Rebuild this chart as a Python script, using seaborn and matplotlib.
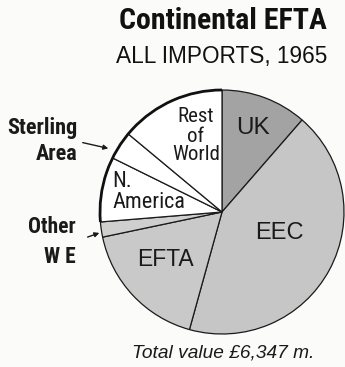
import matplotlib
matplotlib.use("Agg")
import matplotlib.pyplot as plt
from matplotlib.patches import Arc
import seaborn as sns

# Import shares by origin (percent of total), clockwise from 12 o'clock
regions = ["UK", "EEC", "EFTA", "Other WE", "N. America", "Sterling Area", "Rest of World"]
shares = [11.4, 42.9, 17.4, 2.0, 8.6, 3.75, 13.95]
shades = ["#a3a3a3", "#c6c6c6", "#c9c9c9", "#cfcfcf", "#ffffff", "#ffffff", "#ffffff"]

title = "Continental EFTA"
subtitle = "ALL IMPORTS, 1965"
note = "Total value £6,347 m."

sns.set_style("white")
plt.rcParams["font.family"] = ["Liberation Sans", "DejaVu Sans"]
NARROW = ["Roboto Condensed", "DejaVu Sans"]

W, H = 345, 367
fig = plt.figure(figsize=(W / 100, H / 100), dpi=100, facecolor="#fbfbfa")
ax = fig.add_axes([0, 0, 1, 1])
ax.set_facecolor("#fbfbfa")

cx, cy, r = 222, H - 212, 122
wedges, _ = ax.pie(
    shares, colors=shades, startangle=90, counterclock=False,
    center=(cx, cy), radius=r, frame=True,
    wedgeprops=dict(edgecolor="#1a1a1a", linewidth=0.9),
)
ax.set_xlim(0, W)
ax.set_ylim(0, H)
ax.set_aspect("equal")
ax.axis("off")

# heavier rim along the white (non-European) sectors
white_start = 90 + 360 * sum(shares[4:]) / 100
ax.add_patch(Arc((cx, cy), 2 * r, 2 * r, theta1=90, theta2=white_start,
                 lw=2.0, color="#111111", zorder=5))

def y(py):
    return H - py

ax.text(223, y(21), title, ha="center", va="center", fontsize=21.5,
        fontweight="bold", family=NARROW, color="#111111")
ax.text(222, y(57), subtitle, ha="center", va="center", fontsize=16.3,
        color="#111111")

ax.text(253, y(128), "UK", ha="center", va="center", fontsize=17.5, color="#1a1a1a")
ax.text(279, y(233), "EEC", ha="center", va="center", fontsize=17, color="#1a1a1a")
ax.text(165, y(259), "EFTA", ha="center", va="center", fontsize=16.5, color="#1a1a1a")
ax.text(196, y(136), "Rest\nof\nWorld", ha="center", va="center", fontsize=15,
        family=NARROW, linespacing=1.0, color="#1a1a1a")
ax.text(112, y(192), "N.\nAmerica", ha="left", va="center", fontsize=16,
        family=NARROW, linespacing=1.0, color="#1a1a1a")
ax.text(78, y(141), "Sterling\nArea", ha="right", va="center", fontsize=16,
        family=NARROW, fontweight="bold", linespacing=1.22, color="#1a1a1a")
ax.text(76, y(242), "Other\nW E", ha="right", va="center", fontsize=15.5,
        family=NARROW, fontweight="bold", linespacing=1.42, color="#1a1a1a")

arrow = dict(arrowstyle="-|>", color="#1a1a1a", lw=1.0, mutation_scale=7)
ax.annotate("", xy=(111, y(149)), xytext=(80, y(142)), arrowprops=arrow)
ax.annotate("", xy=(102, y(232)), xytext=(85, y(238)), arrowprops=arrow)

ax.text(223, y(353), note, ha="center", va="center", fontsize=13.8,
        style="italic", color="#1a1a1a")

fig.savefig("out.png", dpi=100, facecolor=fig.get_facecolor())
